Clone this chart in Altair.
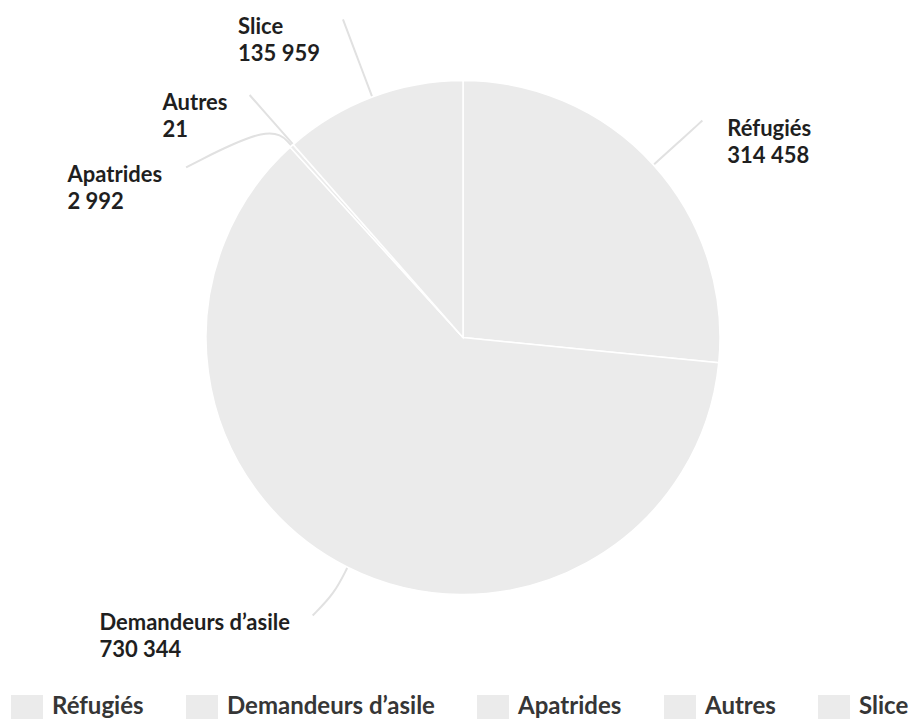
import altair as alt
import pandas as pd

categories = ["Réfugiés", "Demandeurs d’asile", "Apatrides", "Autres", "Slice"]
values = [314458, 730344, 2992, 21, 135959]


def fr(n):
    return f"{n:,}".replace(",", " ")


value_labels = [fr(v) for v in values]

df = pd.DataFrame({
    "category": categories,
    "value": values,
    "order": list(range(len(categories))),
    "vlabel": value_labels,
})

W, H = 902, 672
CX, CY = 455, 329.5
R = 257
RL = 323
FS = 22

xs = alt.Scale(domain=[-CX, W - CX], nice=False, zero=False)
ys = alt.Scale(domain=[-CY, H - CY], nice=False, zero=False, reverse=True)

slice_color = "#ebebeb"


def with_angles(ch):
    # label anchors sit on the slice mid-angle; the two tiny neighbouring
    # slices and the bottom label are nudged apart the way the original lays them out
    return (
        ch.transform_joinaggregate(total="sum(value)")
        .transform_window(cum="sum(value)", sort=[alt.SortField("order")], frame=[None, 0])
        .transform_calculate(mid="2*PI*(datum.cum - datum.value/2)/datum.total")
        .transform_calculate(
            la="datum.mid + (datum.category == 'Apatrides' ? -0.29 : 0)"
               " + (datum.category == 'Demandeurs d’asile' ? 0.03 : 0)",
            lr=f"{RL} + (datum.category == 'Slice' ? 17 : 0) + (datum.category == 'Apatrides' ? 2 : 0)"
               " - (datum.category == 'Demandeurs d’asile' ? 7 : 0)",
        )
    )


arcs = alt.Chart(df).mark_arc(outerRadius=R, stroke="white", strokeWidth=1.5).encode(
    theta=alt.Theta("value:Q", stack=True),
    order=alt.Order("order:Q"),
    color=alt.Color(
        "category:N",
        scale=alt.Scale(domain=categories, range=[slice_color] * len(categories)),
        legend=alt.Legend(
            orient="none",
            legendX=7,
            legendY=687,
            direction="horizontal",
            columns=5,
            title=None,
            symbolType="M-1.333,-1H1.333V1H-1.333Z",
            symbolSize=576,
            symbolStrokeWidth=0,
            symbolOpacity=1,
            labelFont="Lato",
            labelFontSize=24,
            labelFontWeight="bold",
            labelColor="#363636",
            labelOffset=13,
            columnPadding=42,
            labelLimit=400,
        ),
    ),
    x=alt.XDatum(0, type="quantitative", scale=xs, axis=None),
    y=alt.YDatum(0, type="quantitative", scale=ys, axis=None),
)

connectors = (
    with_angles(alt.Chart(df))
    .transform_calculate(steps="[0, 1, 2]")
    .transform_flatten(["steps"], as_=["step"])
    .transform_calculate(
        r=f"datum.step == 0 ? {R + 1} : (datum.step == 1 ? {R + 30} : datum.lr)",
        ang="datum.step == 2 ? datum.la : datum.mid",
    )
    .transform_calculate(px="datum.r * sin(datum.ang)", py="-datum.r * cos(datum.ang)")
    .mark_line(interpolate="basis", color="#e1e1e1", strokeWidth=2)
    .encode(
        x=alt.X("px:Q", scale=xs, axis=None),
        y=alt.Y("py:Q", scale=ys, axis=None),
        detail="category:N",
        order="step:Q",
    )
)

# approximate width of a two-line label block (Lato Bold), used to put
# left-hand labels to the left of their connector end
label_base = (
    with_angles(alt.Chart(df))
    .transform_calculate(
        ax="datum.lr * sin(datum.la)",
        py="-datum.lr * cos(datum.la)",
        txt="datum.category + '\\n' + datum.vlabel",
        ndig="length(replace(datum.vlabel, regexp(' ', 'g'), ''))",
        nsp="length(datum.vlabel) - length(replace(datum.vlabel, regexp(' ', 'g'), ''))",
    )
    .transform_calculate(
        estw=f"max(length(datum.category) * {FS * 0.478}, datum.ndig * {FS * 0.58} + datum.nsp * {FS * 0.2})"
    )
    .transform_calculate(
        px="datum.ax > 0 ? datum.ax + 25 : datum.ax - 24 - datum.estw"
    )
)

labels = label_base.mark_text(
    align="left",
    baseline="alphabetic",
    font="Lato",
    fontSize=FS,
    fontWeight="bold",
    color="#1f1f1f",
    lineBreak="\n",
    lineHeight=27,
    dy=15,
).encode(
    x=alt.X("px:Q", scale=xs, axis=None),
    y=alt.Y("py:Q", scale=ys, axis=None),
    text="txt:N",
)

chart = (
    alt.layer(arcs, connectors, labels)
    .properties(width=W, height=H, background="white", padding=0)
    .configure_view(stroke=None)
)

chart.save("out.html", embed_options={"renderer": "svg", "actions": False})
